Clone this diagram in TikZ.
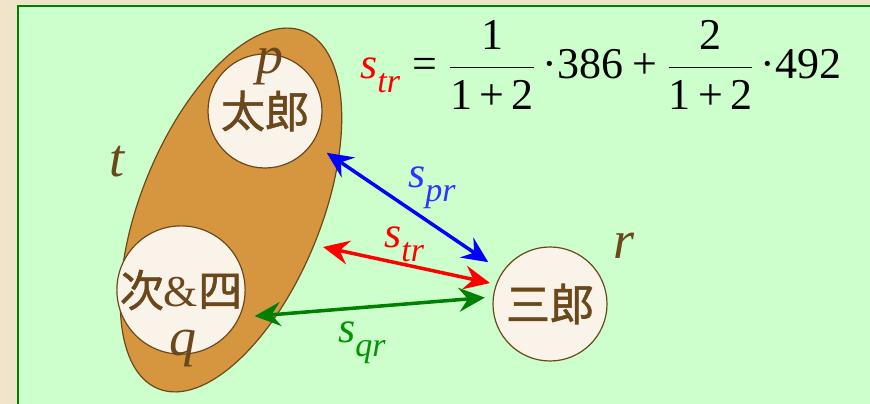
\RequirePackage{fix-cm}
\documentclass[tikz,border=0pt]{standalone}
\usepackage{fontspec}
\usepackage{amsmath}
\setmainfont{Liberation Serif}
\newfontfamily\cjk{Noto Sans CJK JP}[FakeBold=1.2]
\usetikzlibrary{shapes.geometric,arrows.meta}

\definecolor{beige}{RGB}{240,228,202}
\definecolor{mint}{RGB}{204,255,204}
\definecolor{leaf}{RGB}{0,128,0}
\definecolor{leaftext}{RGB}{0,150,0}
\definecolor{skytext}{RGB}{51,51,255}
\definecolor{ochre}{RGB}{214,150,64}
\definecolor{umber}{RGB}{107,72,28}
\definecolor{cream}{RGB}{250,243,234}

% italic letter with a lowered italic subscript
\newcommand{\ssub}[2]{\textit{#1}\raisebox{-0.3em}{\fontsize{34}{34}\selectfont\itshape #2}}

\tikzset{
  person/.style={circle, draw=umber, fill=cream, line width=1.2pt, minimum size=114pt,
    inner sep=0pt, text=umber, font=\fontsize{44}{44}\selectfont},
  setname/.style={text=umber, font=\fontsize{54}{54}\selectfont\itshape, anchor=base, inner sep=0pt},
  link/.style={line width=3.5pt,
    {Stealth[length=26pt,width=24pt,inset=9pt]}-{Stealth[length=26pt,width=24pt,inset=9pt]}},
  weight/.style={font=\fontsize{44}{44}\selectfont, anchor=base west, inner sep=0pt},
}

\begin{document}
\begin{tikzpicture}[x=1pt, y=1pt]
    \useasboundingbox (0,0) rectangle (870,404);

    % Slide background and frame
    \fill[beige] (0,0) rectangle (870,404);
    \draw[leaf, line width=2.5pt, fill=mint] (18,-10) rectangle (885,398);

    % Set t
    \node[ellipse, draw=umber, fill=ochre, line width=1.2pt, inner sep=0pt,
          minimum width=386pt, minimum height=180pt, rotate=67.8] (t) at (231,194) {};

    % Members
    \node[person] (p) at (265,293) {\cjk 太郎};
    \node[person] (q) at (181,114) {{\cjk 次}\&{\cjk 四}};
    \node[person] (r) at (550,100) {\cjk 三郎};

    % Names
    \node[setname] (pname) at (270,330) {p};
    \node[setname] (tname) at (117,227) {t};
    \node[setname] (qname) at (183,48) {q};
    \node[setname] (rname) at (624,145) {r};

    % Similarities
    \coordinate (tedge) at (323,157);
    \draw[link, blue, shorten <=17pt, shorten >=17pt] (p) -- (r);
    \draw[link, red, shorten >=6pt] (tedge) -- (r.160);
    \draw[link, leaf, shorten <=15pt, shorten >=8pt] (q.-25) -- (r.173);

    \node[weight, text=skytext] (spr) at (408,216) {\ssub{s}{pr}};
    \node[weight, text=red] (str) at (384,156) {\ssub{s}{tr}};
    \node[weight, text=leaftext] (sqr) at (338,61) {\ssub{s}{qr}};

    % Weighted average
    \node[weight] (avg) at (360,325) {$\displaystyle
        \text{\color{red}\ssub{s}{tr}} \mathrel{\text{=}}
        \frac{\text{1}}{\text{1\,+\,2}}\text{\,·386} \mathbin{\text{+}}
        \frac{\text{2}}{\text{1\,+\,2}}\text{\,·492}$};
\end{tikzpicture}
\end{document}
